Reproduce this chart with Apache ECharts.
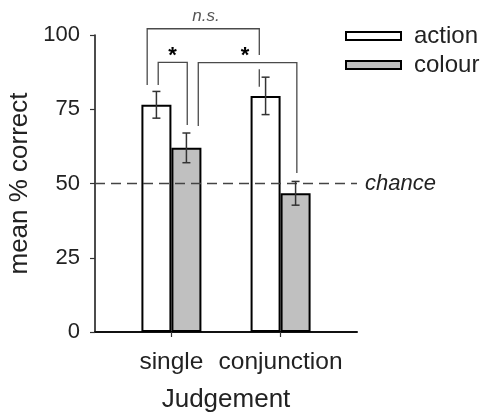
<!DOCTYPE html>
<html>
<head>
<meta charset="utf-8">
<script src="https://cdn.jsdelivr.net/npm/echarts@6/dist/echarts.min.js"></script>
<style>
html,body{margin:0;padding:0;background:#fff;}
#chart{width:483px;height:414px;}
</style>
</head>
<body>
<div id="chart"></div>
<script>
// ---- data ----
const categories = ['single', 'conjunction'];
const actionMeans = [76.5, 79.5];
const actionErr = [4.5, 6.3];
const colourMeans = [62, 46.7];
const colourErr = [5, 4];
const yTickValues = [0, 25, 50, 75, 100];
const chanceLevel = 50;
const seriesNames = ['action', 'colour'];

// ---- chart ----
const FONT = '"Liberation Sans", Arial, sans-serif';
const TXT = '#222';
const BAR_W = 30;
const chart = echarts.init(document.getElementById('chart'), null, {renderer: 'canvas'});

const catIdx = categories.map((c, i) => i);
const actionData = catIdx.map(i => [i, actionMeans[i]]);
const colourData = catIdx.map(i => [i, colourMeans[i]]);
const actionErrData = catIdx.map(i => [i, actionMeans[i], actionErr[i]]);
const colourErrData = catIdx.map(i => [i, colourMeans[i], colourErr[i]]);

function errRenderer(offset) {
  return function (params, api) {
    const x = api.value(0), m = api.value(1), e = api.value(2);
    const t = api.coord([x, m + e]);
    const b = api.coord([x, m - e]);
    const cx = t[0] + offset;
    const st = {stroke: '#333', lineWidth: 1.5};
    const cw = 4;
    return {
      type: 'group',
      children: [
        {type: 'line', shape: {x1: cx, y1: t[1], x2: cx, y2: b[1]}, style: st},
        {type: 'line', shape: {x1: cx - cw, y1: t[1], x2: cx + cw, y2: t[1]}, style: st},
        {type: 'line', shape: {x1: cx - cw, y1: b[1], x2: cx + cw, y2: b[1]}, style: st}
      ]
    };
  };
}

// significance annotations in data units (x: category index units, y: % correct)
const bracketSegments = [
  // n.s. bracket
  [[-0.222, 83.2], [-0.222, 102.1], [0.805, 102.1], [0.805, 93.3]],
  [[0.805, 88.5], [0.805, 82.6]],
  // single: action vs colour
  [[-0.121, 83.2], [-0.121, 90.8], [0.145, 90.8], [0.145, 69.7]],
  // colour single vs colour conjunction
  [[0.246, 69.4], [0.246, 90.7], [1.149, 90.7], [1.149, 53.5]]
];
const bracketLabels = [
  {pos: [0.317, 106.2], text: 'n.s.', italic: true},
  {pos: [0.011, 94.3], text: '*', italic: false},
  {pos: [0.674, 94.3], text: '*', italic: false}
];

const option = {
  animation: false,
  backgroundColor: '#fff',
  textStyle: {fontFamily: FONT},
  grid: {left: 95, right: 126, top: 35, bottom: 82, containLabel: false, outerBoundsMode: 'none'},
  legend: {
    data: seriesNames,
    orient: 'vertical',
    left: 345,
    top: 24,
    padding: 0,
    itemWidth: 55,
    itemHeight: 8,
    itemGap: 5,
    icon: 'rect',
    textStyle: {fontSize: 24, color: TXT, fontFamily: FONT, padding: [0, 0, 0, 8]}
  },
  xAxis: {
    type: 'value',
    min: -0.7,
    max: 1.7,
    splitLine: {show: false},
    axisLine: {show: true, onZero: false, lineStyle: {color: '#111', width: 2}},
    axisTick: {show: true, customValues: catIdx, length: 5, lineStyle: {color: '#333', width: 1.2}},
    axisLabel: {
      customValues: catIdx,
      formatter: v => categories[Math.round(v)],
      fontSize: 24.5, color: TXT, margin: 18, fontFamily: FONT
    },
    name: 'Judgement',
    nameLocation: 'middle',
    nameGap: 55,
    nameTextStyle: {fontSize: 26, color: TXT, fontFamily: FONT}
  },
  yAxis: {
    type: 'value',
    min: 0,
    max: 100,
    interval: 25,
    splitLine: {show: false},
    axisLine: {show: true, onZero: false, lineStyle: {color: '#111', width: 1.5}},
    axisTick: {show: true, length: 5, lineStyle: {color: '#333', width: 1.2}},
    axisLabel: {fontSize: 22, color: TXT, margin: 15, fontFamily: FONT},
    name: 'mean % correct',
    nameLocation: 'middle',
    nameGap: 45,
    nameTextStyle: {fontSize: 26, color: TXT, fontFamily: FONT}
  },
  series: [
    {
      name: seriesNames[0],
      type: 'bar',
      data: actionData,
      barWidth: BAR_W,
      barGap: '0%',
      itemStyle: {color: '#ffffff', borderColor: '#000', borderWidth: 2},
      markLine: {
        silent: true,
        symbol: 'none',
        lineStyle: {color: '#444', width: 1.3, type: [10, 6]},
        label: {
          show: true, position: 'end', distance: 8,
          formatter: 'chance', fontStyle: 'italic', fontSize: 22, color: TXT, fontFamily: FONT
        },
        data: [{yAxis: chanceLevel}]
      }
    },
    {
      name: seriesNames[1],
      type: 'bar',
      data: colourData,
      barWidth: BAR_W,
      barGap: '0%',
      itemStyle: {color: '#c0c0c0', borderColor: '#000', borderWidth: 2}
    },
    {
      type: 'custom',
      data: actionErrData,
      renderItem: errRenderer(-BAR_W / 2),
      z: 5,
      silent: true
    },
    {
      type: 'custom',
      data: colourErrData,
      renderItem: errRenderer(BAR_W / 2),
      z: 5,
      silent: true
    },
    {
      type: 'custom',
      data: bracketSegments.map((s, i) => [i]),
      silent: true,
      z: 5,
      renderItem: function (params, api) {
        const seg = bracketSegments[params.dataIndex];
        const pts = seg.map(p => api.coord(p));
        return {type: 'polyline', shape: {points: pts}, style: {stroke: '#4a4a4a', lineWidth: 1.3, fill: null}};
      }
    },
    {
      type: 'custom',
      data: bracketLabels.map((s, i) => [i]),
      silent: true,
      z: 6,
      renderItem: function (params, api) {
        const lb = bracketLabels[params.dataIndex];
        const p = api.coord(lb.pos);
        return {
          type: 'text',
          x: p[0], y: p[1],
          style: lb.italic ? {
            text: lb.text, fontSize: 17, fontStyle: 'italic', fill: '#555',
            fontFamily: FONT, align: 'center', verticalAlign: 'middle'
          } : {
            text: lb.text, fontSize: 22, fontWeight: 'bold', fill: '#000',
            fontFamily: FONT, align: 'center', verticalAlign: 'middle', y: 4
          }
        };
      }
    }
  ]
};

chart.setOption(option);
</script>
</body>
</html>
